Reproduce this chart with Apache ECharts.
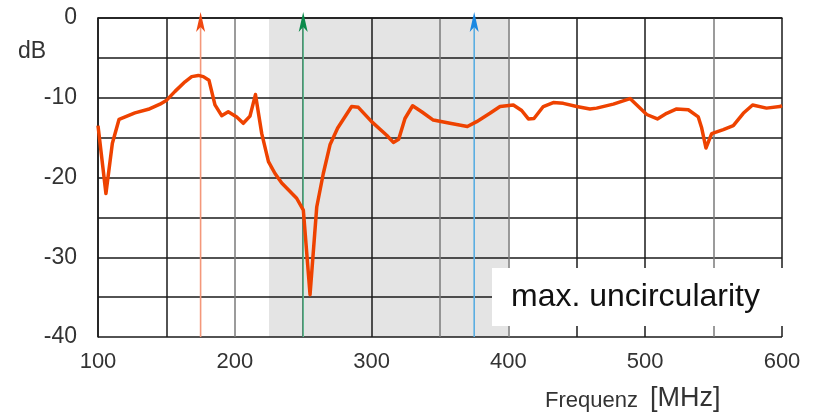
<!DOCTYPE html>
<html>
<head>
<meta charset="utf-8">
<script src="https://cdn.jsdelivr.net/npm/echarts@6/dist/echarts.min.js"></script>
<style>
  html, body { margin: 0; padding: 0; background: #fff; }
  #chart { width: 817px; height: 413px; }
</style>
</head>
<body>
<div id="chart"></div>
<script>
// Measured response: frequency (MHz) and level (dB)
const freqMHz = [
  100, 105.8, 110.5, 115.4, 127, 136.8, 145.3, 150.2, 156.3, 163.6,
  168.5, 173.3, 177, 181.1, 185.5, 190.4, 195.2, 201.4, 206.2, 211.1,
  215.1, 219.7, 224.6, 229.4, 234.3, 245.2, 250.1, 255, 259.9, 264.7,
  269.6, 275.2, 285.4, 290.3, 300, 311, 315.9, 319.8, 324.4, 330,
  336.6, 345.1, 357.3, 370, 376.8, 386.5, 393.9, 403.6, 409.7, 414.6,
  418.7, 425.5, 432.8, 440.1, 449.9, 459.6, 464.5, 476.7, 488.9, 495,
  501.1, 508.9, 515.7, 523, 531.5, 538.8, 541.3, 544.4, 548.6, 557.1,
  564.4, 571.7, 578.5, 588.7, 598.5, 600
];
const levelDb = [
  -13.5, -22.0, -15.7, -12.7, -11.9, -11.45, -10.8, -10.3, -9.2, -8.0,
  -7.35, -7.2, -7.35, -7.8, -10.9, -12.25, -11.75, -12.4, -13.2, -12.3,
  -9.6, -14.5, -18.0, -19.5, -20.7, -22.6, -24.1, -34.7, -23.7, -19.5,
  -15.9, -13.8, -11.1, -11.2, -13.0, -14.7, -15.6, -15.2, -12.6, -11.0,
  -11.75, -12.8, -13.2, -13.6, -13.0, -11.95, -11.1, -10.9, -11.6, -12.65,
  -12.6, -11.1, -10.6, -10.7, -11.1, -11.4, -11.3, -10.8, -10.1, -11.1,
  -12.1, -12.65, -11.95, -11.4, -11.5, -12.4, -13.8, -16.3, -14.5, -14.0,
  -13.5, -11.95, -10.9, -11.3, -11.1, -11.0
];

// Shaded frequency band (MHz)
const bandRange = [225, 400];

// Marker frequencies (MHz)
const markerFreqs = [175, 250, 375];
const markerLineColors = ['#f4987a', '#5db58c', '#5aaee2'];
const markerHeadColors = ['#f04810', '#0a8a4a', '#1a88e2'];

// Axis settings
const xMin = 100, xMax = 600, xStep = 50;
const yMin = -40, yMax = 0, yStep = 5;
const xSplitColors = ['#1a1a1a', '#1a1a1a', '#7a7a7a', '#1a1a1a', '#1a1a1a', '#7a7a7a',
                      '#7a7a7a', '#1a1a1a', '#1a1a1a', '#7a7a7a', '#1a1a1a'];

const FONT = 'Liberation Sans, Arial, sans-serif';
const chart = echarts.init(document.getElementById('chart'), null, { renderer: 'canvas' });

const lineData = freqMHz.map((f, i) => [f, levelDb[i]]);

chart.setOption({
  animation: false,
  backgroundColor: '#ffffff',
  title: [
    {
      text: 'dB',
      left: 18, top: 40,
      textStyle: { fontFamily: FONT, fontSize: 23, fontWeight: 'normal', color: '#333' },
      padding: 0
    },
    {
      text: 'max. uncircularity',
      left: 492, top: 268,
      padding: [13, 25, 13, 19],
      backgroundColor: '#ffffff',
      textStyle: { fontFamily: FONT, fontSize: 32, fontWeight: 'normal', color: '#111' },
      z: 10
    },
    {
      text: '{a|Frequenz}{b|[MHz]}',
      left: 545, top: 385,
      padding: 0,
      textStyle: {
        fontWeight: 'normal',
        rich: {
          a: { fontFamily: FONT, fontSize: 22, fontWeight: 'normal', color: '#333', verticalAlign: 'bottom' },
          b: { fontFamily: FONT, fontSize: 27, fontWeight: 'normal', color: '#333', verticalAlign: 'bottom', padding: [0, 0, 0, 12] }
        }
      }
    }
  ],
  grid: { left: 98, right: 35, top: 18, bottom: 76, containLabel: false },
  xAxis: {
    type: 'value',
    min: xMin, max: xMax, interval: xStep,
    z: 3,
    axisLine: { show: true, lineStyle: { color: '#1a1a1a', width: 1.5 } },
    axisTick: { show: false },
    axisLabel: {
      margin: 14,
      fontFamily: FONT, fontSize: 22, color: '#333',
      formatter: v => (v % 100 === 0 ? String(v) : '')
    },
    splitLine: { show: true, lineStyle: { color: xSplitColors, width: 1.5 } }
  },
  yAxis: {
    type: 'value',
    min: yMin, max: yMax, interval: yStep,
    z: 3,
    axisLine: { show: true, lineStyle: { color: '#1a1a1a', width: 1.5 } },
    axisTick: { show: false },
    axisLabel: {
      margin: 21,
      fontFamily: FONT, fontSize: 23, color: '#333',
      formatter: v => (v % 10 === 0 ? String(v) : '')
    },
    splitLine: { show: true, lineStyle: { color: '#1a1a1a', width: 1.5 } }
  },
  series: [
    {
      // shaded band behind the grid
      type: 'custom',
      z: 1,
      silent: true,
      data: [bandRange],
      encode: { x: [0, 1] },
      renderItem: (params, api) => {
        const p0 = api.coord([api.value(0), yMax]);
        const p1 = api.coord([api.value(1), yMin]);
        return {
          type: 'rect',
          shape: { x: p0[0], y: p0[1], width: p1[0] - p0[0], height: p1[1] - p0[1] },
          style: { fill: '#e4e4e4' }
        };
      }
    },
    {
      // frequency markers with arrow heads
      type: 'custom',
      z: 4,
      silent: true,
      clip: false,
      data: markerFreqs.map(f => [f]),
      encode: { x: 0 },
      renderItem: (params, api) => {
        const f = api.value(0);
        const b = api.coord([f, yMin]);
        const t = api.coord([f, yMax]);
        const cx = b[0];
        const tip = t[1] - 6;
        const i = params.dataIndex;
        return {
          type: 'group',
          children: [
            {
              type: 'line',
              shape: { x1: cx, y1: b[1], x2: cx, y2: tip + 6 },
              style: { stroke: markerLineColors[i], lineWidth: 1.6 }
            },
            {
              type: 'polygon',
              shape: { points: [[cx, tip], [cx + 4.5, tip + 20], [cx, tip + 15], [cx - 4.5, tip + 20]] },
              style: { fill: markerHeadColors[i] }
            }
          ]
        };
      }
    },
    {
      type: 'line',
      z: 5,
      data: lineData,
      symbol: 'none',
      smooth: false,
      lineStyle: { color: '#ee4200', width: 3.5, join: 'round' }
    }
  ]
});
</script>
</body>
</html>
